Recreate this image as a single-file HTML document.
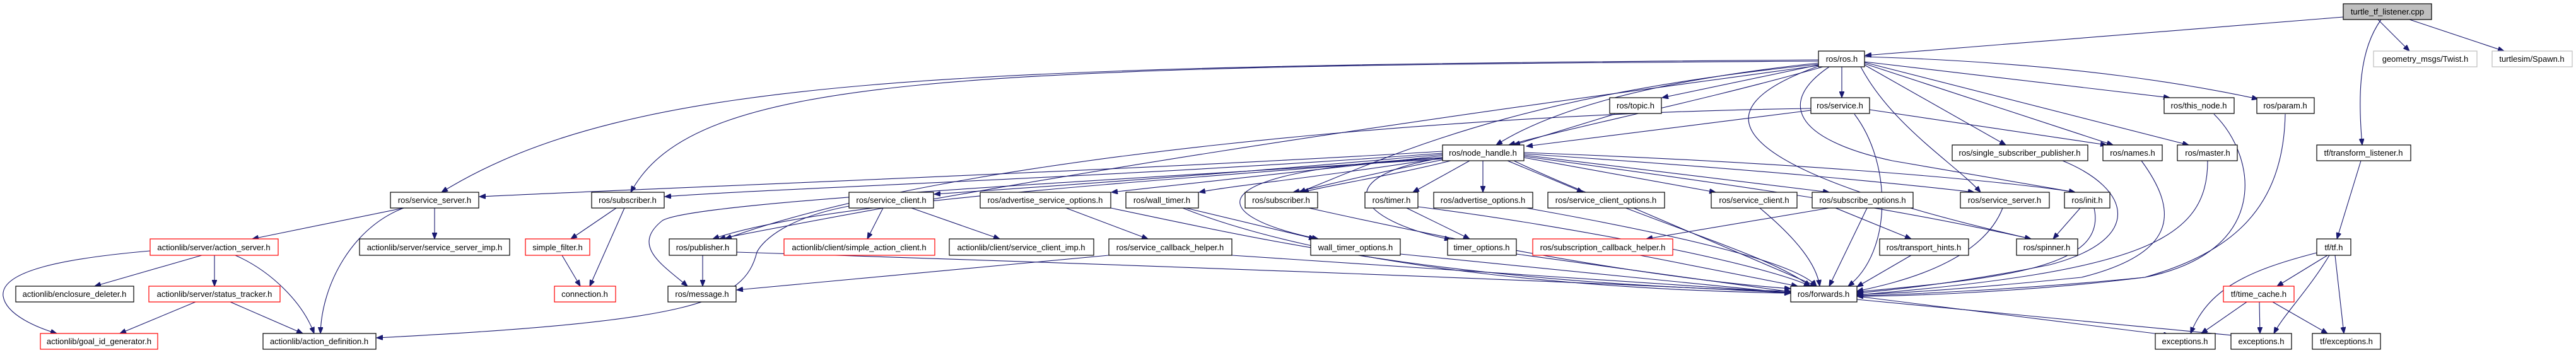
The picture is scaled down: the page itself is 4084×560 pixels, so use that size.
<!DOCTYPE html>
<html><head><meta charset="utf-8"><style>
html,body{margin:0;padding:0;background:#fff;}
svg{display:block}
text{font-family:"Liberation Sans",Arial,sans-serif;font-size:13px;fill:#000;text-anchor:middle}
.n{fill:#fff;stroke:#000;stroke-width:1.2}
.r{fill:#fff;stroke:#ff0000;stroke-width:1.2}
.g{fill:#fff;stroke:#bfbfbf;stroke-width:1.2}
.e path{fill:none;stroke:#191970;stroke-width:1.1;marker-end:url(#a)}
</style></head><body>
<svg width="4084" height="560" viewBox="0 0 4084 560" xmlns="http://www.w3.org/2000/svg">
<defs><marker id="a" markerUnits="userSpaceOnUse" markerWidth="11" markerHeight="8" refX="10" refY="4" orient="auto"><path d="M0,0 L10,4 L0,8 z" fill="#191970" stroke="#191970"/></marker></defs>
<g class="e">
<path d="M3715,27 L2957,88"/>
<path d="M3770,31 L3820,81"/>
<path d="M3820,31 L3970,81"/>
<path d="M3775,31 C3740,80 3738,150 3745,230"/>
<path d="M2883,95 C1500,105 1000,120 700,305"/>
<path d="M2883,97 C1500,105 1100,120 1000,305"/>
<path d="M2883,103 L2635,155"/>
<path d="M2920,106 L2920,155"/>
<path d="M2890,106 C2700,160 2500,200 2392,230"/>
<path d="M2883,100 C2600,130 2450,180 2372,230"/>
<path d="M2956,98 L3440,155"/>
<path d="M2956,90 C3300,100 3500,140 3580,157"/>
<path d="M2956,103 L3180,230"/>
<path d="M2956,101 L3350,230"/>
<path d="M2956,99 L3470,230"/>
<path d="M2900,106 C2820,160 2840,220 3000,255 L3290,305"/>
<path d="M2950,106 C3000,200 3100,260 3140,305"/>
<path d="M2883,102 C2400,150 2200,250 2060,305"/>
<path d="M2883,104 C2400,170 1800,250 1140,379"/>
<path d="M2883,105 C2700,170 2700,260 3220,379"/>
<path d="M2871,175 L2420,232"/>
<path d="M2964,174 L3340,230"/>
<path d="M2871,172 C2300,180 1500,250 1150,379"/>
<path d="M2940,181 C3000,260 3000,400 2930,454"/>
<path d="M2560,181 L2400,230"/>
<path d="M2287,240 C1800,270 1000,300 760,312"/>
<path d="M2287,243 C1800,280 1200,300 1054,312"/>
<path d="M2287,245 C1900,280 1600,300 1481,308"/>
<path d="M2287,247 C2000,280 1850,295 1762,305"/>
<path d="M2290,250 C2100,280 1950,295 1901,305"/>
<path d="M2300,255 C2200,280 2100,295 2065,305"/>
<path d="M2290,253 C2150,280 2080,300 2050,305"/>
<path d="M2330,255 L2240,305"/>
<path d="M2351,255 L2351,305"/>
<path d="M2390,255 L2510,305"/>
<path d="M2416,250 L2720,305"/>
<path d="M2416,246 L2900,305"/>
<path d="M2416,244 C2800,270 3000,290 3130,305"/>
<path d="M2416,242 C2900,260 3200,290 3290,305"/>
<path d="M2287,250 C1800,290 1300,320 1130,379"/>
<path d="M2287,252 C1700,290 1100,320 1050,350 C1000,390 1050,420 1090,454"/>
<path d="M2287,250 C1900,270 1900,340 2090,379"/>
<path d="M2290,250 C2100,280 2150,350 2300,380"/>
<path d="M2416,248 C2800,300 3000,330 3220,379"/>
<path d="M2400,255 C2600,350 2800,400 2870,454"/>
<path d="M640,330 L400,379"/>
<path d="M689,330 L689,379"/>
<path d="M640,330 C560,360 510,450 508,529"/>
<path d="M977,330 L905,379"/>
<path d="M990,330 L935,454"/>
<path d="M891,405 L920,454"/>
<path d="M1400,330 L1375,379"/>
<path d="M1445,330 L1585,379"/>
<path d="M1346,327 C1250,345 1210,380 1200,400 C1180,480 1100,510 597,536"/>
<path d="M1690,330 L1820,379"/>
<path d="M1761,330 C2000,380 2300,450 2839,462"/>
<path d="M1880,330 L2085,379"/>
<path d="M1875,330 C2100,420 2500,460 2839,465"/>
<path d="M2075,330 C2300,380 2600,440 2839,458"/>
<path d="M2230,330 L2330,379"/>
<path d="M2248,328 C2500,360 2800,420 2870,454"/>
<path d="M2420,330 C2700,380 2850,420 2880,454"/>
<path d="M2590,330 L2880,454"/>
<path d="M2790,330 C2850,380 2880,420 2885,454"/>
<path d="M2900,330 L2610,379"/>
<path d="M2910,330 L3030,379"/>
<path d="M2960,330 L2900,454"/>
<path d="M3175,330 C3140,420 3000,450 2944,462"/>
<path d="M3298,330 L3255,379"/>
<path d="M3320,330 C3340,420 3200,440 2944,463"/>
<path d="M1114,405 L1114,454"/>
<path d="M1168,400 C1800,420 2600,450 2839,465"/>
<path d="M1758,405 L1168,460"/>
<path d="M1953,405 L2839,464"/>
<path d="M2220,403 L2839,465"/>
<path d="M2404,403 L2839,463"/>
<path d="M2600,405 L2850,454"/>
<path d="M3030,405 L2944,455"/>
<path d="M3270,255 C3380,300 3400,380 3250,420 C3100,450 3000,460 2944,465"/>
<path d="M3395,255 C3450,330 3460,400 3300,440 C3100,460 3000,466 2944,467"/>
<path d="M3500,255 C3500,380 3400,430 2944,468"/>
<path d="M3510,181 C3580,250 3600,400 3400,440 C3200,460 3000,468 2944,469"/>
<path d="M3623,181 C3620,330 3540,400 3400,440 C3200,465 3000,470 2944,470"/>
<path d="M2944,470 L3440,532"/>
<path d="M2944,475 L3560,534"/>
<path d="M3743,255 L3705,379"/>
<path d="M3673,401 C3560,430 3500,460 3473,529"/>
<path d="M3562,479 L3490,529"/>
<path d="M3690,405 L3610,454"/>
<path d="M3693,405 C3660,460 3620,500 3605,529"/>
<path d="M3702,405 L3716,529"/>
<path d="M3582,479 L3583,529"/>
<path d="M3603,479 L3690,529"/>
<path d="M320,405 L150,454"/>
<path d="M340,405 L340,454"/>
<path d="M238,398 C100,410 0,430 5,470 C10,500 60,520 90,529"/>
<path d="M373,405 C430,430 480,480 498,529"/>
<path d="M310,479 L190,529"/>
<path d="M365,479 L480,529"/>
</g>
<g>
<rect x="3715" y="6" width="140" height="25" fill="#bfbfbf" stroke="#000" stroke-width="1.2"/><text x="3785" y="23">turtle_tf_listener.cpp</text>
<rect class="g" x="3763" y="81" width="164" height="25"/><text x="3845" y="98">geometry_msgs/Twist.h</text>
<rect class="g" x="3951" y="81" width="127" height="25"/><text x="4014" y="98">turtlesim/Spawn.h</text>
<rect class="n" x="2883" y="81" width="73" height="25"/><text x="2920" y="98">ros/ros.h</text>
<rect class="n" x="2552" y="155" width="82" height="25"/><text x="2593" y="172">ros/topic.h</text>
<rect class="n" x="2871" y="155" width="93" height="25"/><text x="2917" y="172">ros/service.h</text>
<rect class="n" x="3431" y="155" width="111" height="25"/><text x="3486" y="172">ros/this_node.h</text>
<rect class="n" x="3578" y="155" width="91" height="25"/><text x="3623" y="172">ros/param.h</text>
<rect class="n" x="2287" y="230" width="129" height="25"/><text x="2351" y="247">ros/node_handle.h</text>
<rect class="n" x="3095" y="230" width="215" height="25"/><text x="3202" y="247">ros/single_subscriber_publisher.h</text>
<rect class="n" x="3334" y="230" width="94" height="25"/><text x="3381" y="247">ros/names.h</text>
<rect class="n" x="3452" y="230" width="95" height="25"/><text x="3500" y="247">ros/master.h</text>
<rect class="n" x="3673" y="230" width="149" height="25"/><text x="3747" y="247">tf/transform_listener.h</text>
<rect class="n" x="619" y="305" width="140" height="25"/><text x="689" y="322">ros/service_server.h</text>
<rect class="n" x="938" y="305" width="115" height="25"/><text x="995" y="322">ros/subscriber.h</text>
<rect class="n" x="1346" y="305" width="134" height="25"/><text x="1413" y="322">ros/service_client.h</text>
<rect class="n" x="1554" y="305" width="207" height="25"/><text x="1657" y="322">ros/advertise_service_options.h</text>
<rect class="n" x="1785" y="305" width="115" height="25"/><text x="1842" y="322">ros/wall_timer.h</text>
<rect class="n" x="1974" y="305" width="115" height="25"/><text x="2031" y="322">ros/subscriber.h</text>
<rect class="n" x="2164" y="305" width="84" height="25"/><text x="2206" y="322">ros/timer.h</text>
<rect class="n" x="2273" y="305" width="157" height="25"/><text x="2351" y="322">ros/advertise_options.h</text>
<rect class="n" x="2454" y="305" width="185" height="25"/><text x="2546" y="322">ros/service_client_options.h</text>
<rect class="n" x="2713" y="305" width="136" height="25"/><text x="2781" y="322">ros/service_client.h</text>
<rect class="n" x="2873" y="305" width="160" height="25"/><text x="2953" y="322">ros/subscribe_options.h</text>
<rect class="n" x="3108" y="305" width="141" height="25"/><text x="3178" y="322">ros/service_server.h</text>
<rect class="n" x="3273" y="305" width="72" height="25"/><text x="3309" y="322">ros/init.h</text>
<rect class="r" x="238" y="379" width="203" height="26"/><text x="339" y="397">actionlib/server/action_server.h</text>
<rect class="n" x="570" y="379" width="238" height="26"/><text x="689" y="397">actionlib/server/service_server_imp.h</text>
<rect class="r" x="833" y="379" width="102" height="26"/><text x="884" y="397">simple_filter.h</text>
<rect class="n" x="1061" y="379" width="107" height="26"/><text x="1114" y="397">ros/publisher.h</text>
<rect class="r" x="1243" y="379" width="239" height="26"/><text x="1362" y="397">actionlib/client/simple_action_client.h</text>
<rect class="n" x="1505" y="379" width="229" height="26"/><text x="1619" y="397">actionlib/client/service_client_imp.h</text>
<rect class="n" x="1758" y="379" width="195" height="26"/><text x="1855" y="397">ros/service_callback_helper.h</text>
<rect class="n" x="2078" y="379" width="142" height="26"/><text x="2149" y="397">wall_timer_options.h</text>
<rect class="n" x="2295" y="379" width="109" height="26"/><text x="2349" y="397">timer_options.h</text>
<rect class="r" x="2430" y="379" width="222" height="26"/><text x="2541" y="397">ros/subscription_callback_helper.h</text>
<rect class="n" x="2980" y="379" width="141" height="26"/><text x="3050" y="397">ros/transport_hints.h</text>
<rect class="n" x="3197" y="379" width="97" height="26"/><text x="3245" y="397">ros/spinner.h</text>
<rect class="n" x="3673" y="379" width="54" height="26"/><text x="3700" y="397">tf/tf.h</text>
<rect class="n" x="25" y="454" width="187" height="25"/><text x="118" y="471">actionlib/enclosure_deleter.h</text>
<rect class="r" x="236" y="454" width="208" height="25"/><text x="340" y="471">actionlib/server/status_tracker.h</text>
<rect class="r" x="879" y="454" width="97" height="25"/><text x="927" y="471">connection.h</text>
<rect class="n" x="1059" y="454" width="108" height="25"/><text x="1113" y="471">ros/message.h</text>
<rect class="n" x="2839" y="454" width="105" height="25"/><text x="2891" y="471">ros/forwards.h</text>
<rect class="r" x="3525" y="454" width="112" height="25"/><text x="3581" y="471">tf/time_cache.h</text>
<rect class="r" x="64" y="529" width="186" height="25"/><text x="157" y="546">actionlib/goal_id_generator.h</text>
<rect class="n" x="417" y="529" width="179" height="25"/><text x="506" y="546">actionlib/action_definition.h</text>
<rect class="n" x="3417" y="529" width="95" height="25"/><text x="3464" y="546">exceptions.h</text>
<rect class="n" x="3537" y="529" width="96" height="25"/><text x="3585" y="546">exceptions.h</text>
<rect class="n" x="3666" y="529" width="108" height="25"/><text x="3720" y="546">tf/exceptions.h</text>
</g>
</svg>
</body></html>
